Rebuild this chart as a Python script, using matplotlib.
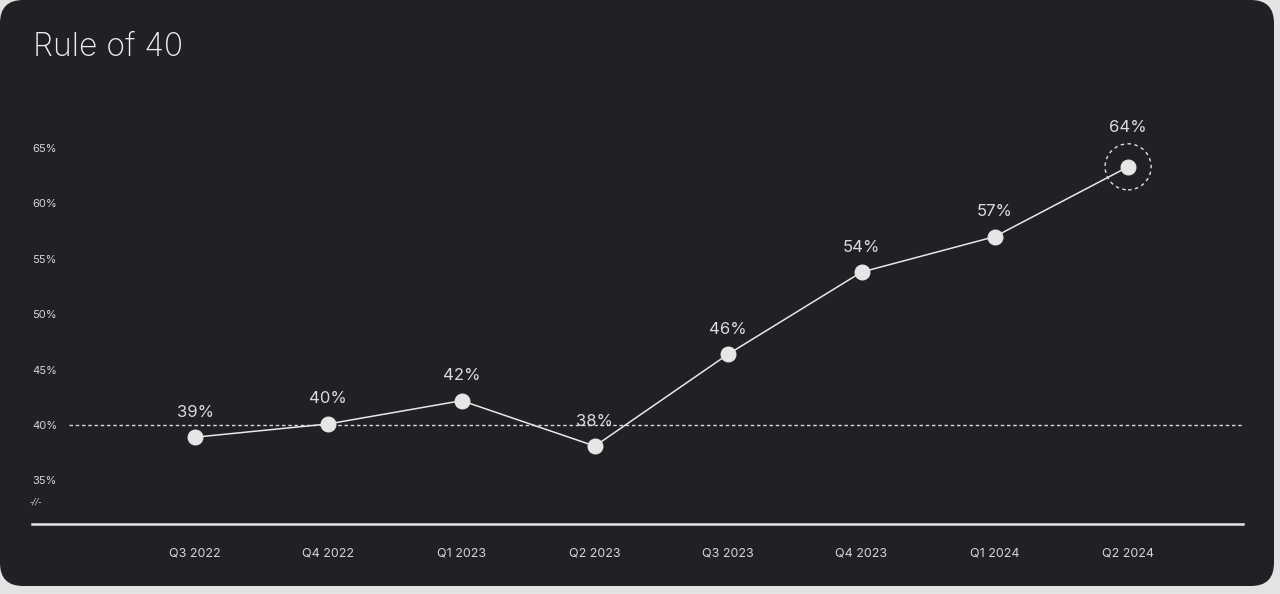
import matplotlib
matplotlib.use("Agg")
import matplotlib.pyplot as plt
from matplotlib.patches import FancyBboxPatch
from matplotlib.transforms import blended_transform_factory

quarters = ["Q3 2022", "Q4 2022", "Q1 2023", "Q2 2023", "Q3 2023", "Q4 2023", "Q1 2024", "Q2 2024"]
rule_of_40 = [38.9, 40.1, 42.2, 38.1, 46.4, 53.8, 57.0, 63.3]
point_labels = ["39%", "40%", "42%", "38%", "46%", "54%", "57%", "64%"]
y_ticks = [35, 40, 45, 50, 55, 60, 65]
y_tick_labels = ["35%", "40%", "45%", "50%", "55%", "60%", "65%"]
threshold = 40

W, H = 1280, 594
fig = plt.figure(figsize=(W / 100, H / 100), dpi=100)
fig.patch.set_facecolor("#e3e3e3")

panel = FancyBboxPatch((0 / W, 8 / H), 1274 / W, 586 / H,
                       boxstyle="round,pad=0,rounding_size=0.018",
                       transform=fig.transFigure, facecolor="#1f2124",
                       edgecolor="none", mutation_aspect=W / H, zorder=0)
fig.patches.append(panel)

fig.text(33 / W, 1 - 48 / H, "Rule of 40", color="#eeeeee", fontsize=23,
         family=["Inter", "DejaVu Sans"], fontweight="light", va="center", ha="left",
         zorder=2)

ax = fig.add_axes([32 / W, (H - 524) / H, (1243 - 32) / W, (524 - 100) / H])
ax.set_zorder(2)
ax.set_facecolor("none")
x = list(range(len(quarters)))
ax.set_xlim(-1.223, 7.862)
ax.set_ylim(31.07, 69.33)

ax.axhline(threshold, xmin=(69 - 32) / (1243 - 32), xmax=1, color="#d8d8d8",
           lw=1, linestyle=(0, (2.5, 2)), zorder=1)
ax.plot(x, rule_of_40, color="#e8e8e8", lw=1.1, zorder=2)
ax.plot(x, rule_of_40, linestyle="none", marker="o", markersize=10.5,
        markerfacecolor="#e6e6e6", markeredgecolor="#e6e6e6", zorder=3)
ax.scatter([x[-1]], [rule_of_40[-1]], s=1100, facecolors="none",
           edgecolors="#e0e0e0", linewidths=1, linestyles=(0, (2.5, 2.5)), zorder=3)

for i, (v, lab) in enumerate(zip(rule_of_40, point_labels)):
    off = 28 if i == len(x) - 1 else 18
    ax.annotate(lab, (i, v), xytext=(0, off), textcoords="offset points",
                ha="center", va="center", color="#dcdcdc", fontsize=12,
                family=["Inter", "DejaVu Sans"])

for s in ["top", "right", "left"]:
    ax.spines[s].set_visible(False)
ax.spines["bottom"].set_color("#e6e6e6")
ax.spines["bottom"].set_linewidth(1.8)

ax.set_xticks(x)
ax.set_xticklabels(quarters, color="#d6d6d6", fontsize=9, family=["Inter", "DejaVu Sans"])
ax.tick_params(axis="x", length=0, pad=17)
ax.set_yticks(y_ticks)
ax.set_yticklabels(y_tick_labels, color="#d6d6d6", fontsize=8, family=["Inter", "DejaVu Sans"])
ax.tick_params(axis="y", length=0, pad=0)
for t in ax.get_yticklabels():
    t.set_horizontalalignment("left")

trans = blended_transform_factory(ax.transAxes, ax.transData)
ax.text(-0.002, 33.1, "-//-", transform=trans, color="#cfcfcf", fontsize=6.5,
        style="italic", ha="left", va="center")

fig.savefig("out.png", dpi=100, facecolor=fig.get_facecolor())
